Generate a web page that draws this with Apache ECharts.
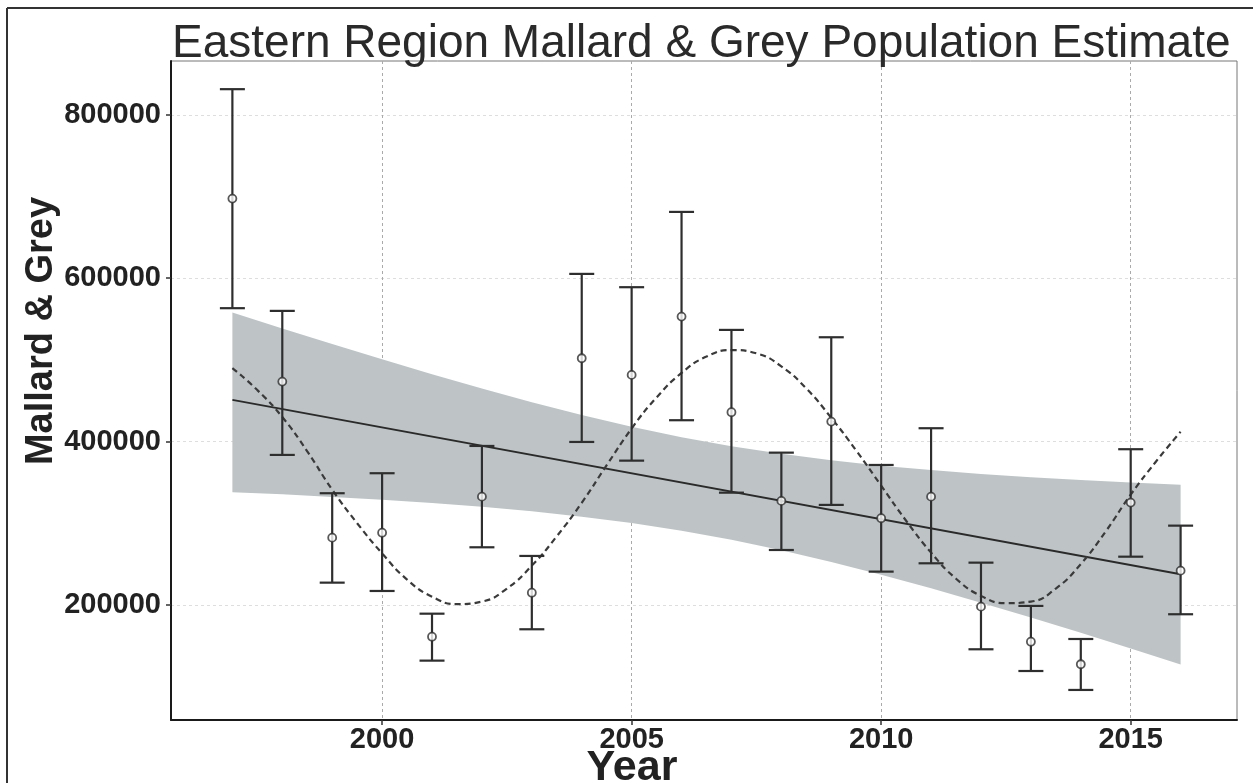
<!DOCTYPE html>
<html>
<head>
<meta charset="utf-8">
<script src="https://cdn.jsdelivr.net/npm/echarts@6/dist/echarts.min.js"></script>
<style>
html,body{margin:0;padding:0;background:#fff;}
#chart{width:1253px;height:783px;}
</style>
</head>
<body>
<div id="chart"></div>
<script>
// ---- data ----
const years = [1997,1998,1999,2000,2001,2002,2003,2004,2005,2006,2007,2008,2009,2010,2011,2012,2013,2014,2015,2016];
const estimate = [697500,473400,282300,288400,161000,332500,214900,502000,481600,553000,435900,327300,424400,306100,332500,197800,154900,127300,325200,241900];
const ciUpper  = [831500,560000,336700,361200,189200,394600,259900,605300,589000,681200,536700,386400,527700,371300,416300,251700,198700,158200,390600,297000];
const ciLower  = [563300,383600,227200,217000,131700,270500,170100,399500,376600,426100,337400,267200,322400,240700,250900,145600,119000,95800,259000,188500];

const bandUpper = [558000,538500,519400,500700,482500,464900,448200,432600,418200,405400,394300,384900,377100,370500,365000,360400,356400,352900,349800,347100];
const bandLower = [338000,335300,332200,328700,324700,320100,314600,308000,300200,290800,279700,266900,252500,236900,220200,202600,184400,165700,146600,127100];

const trendYears = [1997, 2016];
const trendValues = [451000, 237500];

const smoothYears = [1997,1997.5,1998,1998.5,1999,1999.5,2000,2000.5,2001,2001.5,2002,2002.5,2003,2003.5,2004,2004.5,2005,2005.5,2006,2006.5,2007,2007.5,2008,2008.5,2009,2009.5,2010,2010.5,2011,2011.5,2012,2012.5,2013,2013.5,2014,2014.5,2015,2015.5,2016];
const smoothValues = [490000,463000,430000,388000,341000,300000,263000,231000,210000,201000,204000,220000,248000,284000,325000,371000,416000,454000,484000,504000,512000,508000,492000,465000,429000,389000,346000,303000,264000,232000,211000,202000,204000,220000,250000,290000,335000,375000,412000];

const xTicks = [2000, 2005, 2010, 2015];
const yTicks = [200000, 400000, 600000, 800000];

const titleText = 'Eastern Region Mallard & Grey Population Estimate';
const xTitle = 'Year';
const yTitle = 'Mallard & Grey';

// ---- chart ----
const chart = echarts.init(document.getElementById('chart'), null, {renderer:'canvas'});
const FONT = '"Liberation Sans", Arial, Helvetica, sans-serif';

const option = {
  backgroundColor: '#fff',
  animation: false,
  title: {
    text: titleText,
    left: 167, top: 16,
    textStyle: {fontFamily: FONT, fontSize: 46, fontWeight: 'normal', color: '#2a2a2a'}
  },
  grid: {left: 171, right: 16, top: 61, bottom: 63, show: true, borderColor: '#777', borderWidth: 1, backgroundColor: 'transparent'},
  xAxis: {
    type: 'value', min: 1995.77, max: 2017.13,
    axisLine: {show: true, onZero: false, lineStyle: {color: '#1a1a1a', width: 2}},
    axisTick: {show: true, length: 5, customValues: xTicks, lineStyle: {color: '#333', width: 1.5}},
    axisLabel: {customValues: xTicks, margin: 5, formatter: v => String(v), fontFamily: FONT, fontSize: 29, fontWeight: 'bold', color: '#222'},
    splitLine: {show: true, lineStyle: {color: '#aaa', width: 1, type: [3, 3]}}
  },
  yAxis: {
    type: 'value', min: 59000, max: 866000,
    axisLine: {show: true, onZero: false, lineStyle: {color: '#1a1a1a', width: 2}},
    axisTick: {show: true, length: 5, customValues: yTicks, lineStyle: {color: '#333', width: 1.5}},
    axisLabel: {customValues: yTicks, margin: 10, formatter: v => String(v), fontFamily: FONT, fontSize: 29, fontWeight: 'bold', color: '#222'},
    splitLine: {show: true, lineStyle: {color: '#dedede', width: 1, type: [3, 3]}}
  },
  graphic: [
    {type: 'line', shape: {x1: 7, y1: 8, x2: 1253, y2: 8}, style: {stroke: '#333', lineWidth: 2}, silent: true},
    {type: 'line', shape: {x1: 7, y1: 8, x2: 7, y2: 783}, style: {stroke: '#333', lineWidth: 2}, silent: true},
    {type: 'text', x: 42, y: 331, rotation: Math.PI / 2,
      style: {text: yTitle, fontFamily: FONT, fontSize: 38, fontWeight: 'bold', fill: '#222', align: 'center', verticalAlign: 'middle'}},
    {type: 'text', x: 632, y: 768,
      style: {text: xTitle, fontFamily: FONT, fontSize: 43, fontWeight: 'bold', fill: '#222', align: 'center', verticalAlign: 'middle'}}
  ],
  series: [
    {
      name: 'band', type: 'custom', clip: true, z: 1, silent: true,
      data: [[years[0], bandLower[0]]],
      encode: {x: 0, y: 1},
      renderItem: function (params, api) {
        const pts = [];
        for (let i = 0; i < years.length; i++) pts.push(api.coord([years[i], bandUpper[i]]));
        for (let i = years.length - 1; i >= 0; i--) pts.push(api.coord([years[i], bandLower[i]]));
        return {type: 'polygon', shape: {points: pts}, style: {fill: '#bec4c6', stroke: null}};
      }
    },
    {
      name: 'trend', type: 'line', z: 3, silent: true,
      data: trendYears.map((y, i) => [y, trendValues[i]]),
      symbol: 'none', lineStyle: {color: '#2a2a2a', width: 2}
    },
    {
      name: 'smooth', type: 'line', z: 3, silent: true, smooth: true,
      data: smoothYears.map((y, i) => [y, smoothValues[i]]),
      symbol: 'none', lineStyle: {color: '#3a3a3a', width: 2.2, type: [6, 4]}
    },
    {
      name: 'ci', type: 'custom', z: 4, silent: true,
      data: years.map((y, i) => [y, ciLower[i], ciUpper[i]]),
      encode: {x: 0, y: [1, 2]},
      renderItem: function (params, api) {
        const x = api.value(0);
        const lo = api.coord([x, api.value(1)]);
        const hi = api.coord([x, api.value(2)]);
        const hw = 12.5;
        const st = {stroke: '#2e2e2e', lineWidth: 2.2};
        return {type: 'group', children: [
          {type: 'line', shape: {x1: lo[0], y1: lo[1], x2: hi[0], y2: hi[1]}, style: st},
          {type: 'line', shape: {x1: hi[0] - hw, y1: hi[1], x2: hi[0] + hw, y2: hi[1]}, style: st},
          {type: 'line', shape: {x1: lo[0] - hw, y1: lo[1], x2: lo[0] + hw, y2: lo[1]}, style: st}
        ]};
      }
    },
    {
      name: 'estimate', type: 'scatter', z: 5, silent: true,
      data: years.map((y, i) => [y, estimate[i]]),
      symbol: 'circle', symbolSize: 8,
      itemStyle: {color: '#ffffff', borderColor: '#2e2e2e', borderWidth: 1.8}
    }
  ]
};
chart.setOption(option);
</script>
</body>
</html>
